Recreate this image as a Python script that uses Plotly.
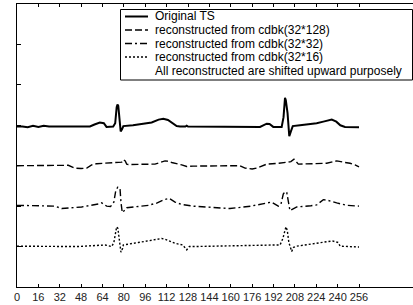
import plotly.graph_objects as go

# ---- data ----
orig_x = [0, 4, 8, 12, 16, 20, 24, 28, 54.6, 58, 62, 65, 67, 72, 73.5, 74.6, 75.2, 75.8, 76.6, 77.6,
          78.6, 79.6, 86.8, 100.8, 106, 109.5, 113, 116, 119.5, 122, 126, 127, 128, 181.9, 184.5,
          186.9, 189, 191.8, 198.1, 199.5, 200.6, 201.2, 202.5, 203.8, 205, 206.4, 211.8, 224.3,
          229.3, 234.3, 235.6, 239, 242, 245.5, 256]
orig_y = [-0.03, -0.03, -0.05, -0.01, -0.04, -0.01, -0.03, -0.03, -0.03, 0.02, 0.07, 0.05, -0.04,
          -0.03, 0.05, 0.45, 0.51, 0.48, 0.10, -0.15, -0.10, -0.02, 0.00, 0.07, 0.14, 0.16, 0.13,
          0.07, -0.02, -0.03, -0.03, -0.01, -0.03, -0.04, 0.00, 0.04, 0.03, -0.04, -0.04, 0.20,
          0.68, 0.62, 0.30, -0.27, -0.15, -0.02, 0.00, 0.05, 0.09, 0.14, 0.14, 0.09, 0.00, -0.04,
          -0.05]

r128_x = [0, 20, 38.4, 43.4, 48, 52.2, 55.9, 59.7, 63.4, 73.4, 78.4, 79.6, 81, 82.1, 83.3, 103.3,
          108, 110.8, 113, 115.8, 123.3, 127, 131.7, 166.9, 170.7, 176, 179.4, 186.9, 196, 201.3,
          205, 207.3, 209, 210.6, 231.8, 236, 239.3, 244, 249.3, 253, 256]
r128_y = [-1.00, -0.99, -0.99, -1.06, -1.07, -1.06, -0.98, -0.95, -0.94, -0.93, -0.91, -0.85,
          -0.88, -0.96, -0.97, -0.96, -0.91, -0.88, -0.89, -0.92, -0.98, -1.02, -1.01, -1.00,
          -1.06, -1.08, -1.06, -0.96, -0.94, -0.92, -0.90, -0.84, -0.90, -0.96, -0.94, -0.90,
          -0.88, -0.91, -0.94, -0.98, -1.03]

r32_x = [0, 28.4, 33.5, 48.4, 62.1, 63.4, 67.1, 70, 72.5, 74, 75.5, 77.1, 77.8, 78.8, 80, 82.1,
         98.3, 105, 110, 114, 118.3, 123.3, 131.7, 159.4, 175, 190.6, 195.6, 197.6, 199.3, 200.6,
         201.9, 203, 204.3, 206, 209.4, 220, 224.3, 229.3, 233, 239.3, 246.8, 256]
r32_y = [-1.98, -2.00, -2.06, -2.02, -1.94, -1.92, -2.00, -2.01, -1.90, -1.60, -1.53, -1.56,
         -1.90, -2.16, -2.12, -2.04, -1.98, -1.92, -1.84, -1.81, -1.90, -1.96, -2.00, -2.06,
         -2.00, -1.90, -2.00, -1.95, -1.70, -1.64, -1.66, -1.90, -2.11, -2.08, -2.02, -1.99,
         -1.97, -1.84, -1.86, -1.92, -1.98, -2.00]

r16_x = [0, 45.9, 65.9, 69.6, 70.9, 72.5, 74.6, 75.5, 76.5, 77.8, 79, 79.6, 90.8, 108.3, 110.8,
         118.3, 124, 127, 129, 131.7, 194.4, 196.9, 199, 201.3, 202.3, 203.5, 205.6, 207, 209.4,
         229.3, 236, 240.5, 241.8, 256]
r16_y = [-2.99, -3.00, -2.96, -2.98, -3.00, -2.90, -2.51, -2.55, -2.80, -3.14, -3.05, -2.96,
         -2.90, -2.80, -2.82, -2.92, -2.96, -3.08, -3.00, -3.00, -2.96, -2.96, -2.80, -2.51,
         -2.60, -2.90, -3.12, -3.02, -2.99, -2.88, -2.86, -2.90, -2.99, -3.01]

names = ["Original TS", "reconstructed from cdbk(32*128)", "reconstructed from cdbk(32*32)",
         "reconstructed from cdbk(32*16)"]
note = "All reconstructed are shifted upward purposely"
x_ticks = list(range(0, 257, 16))
y_ticks = [-4, -3, -2, -1, 0, 1, 2, 3]

W, H = 413, 305
ML, MR, MT, MB = 17, 0, 4, 18
PW, PH = W - ML - MR, H - MT - MB


def px_x(px):
    return (px - ML) / PW


def px_y(py):
    return (H - MB - py) / PH


fig = go.Figure()
widths = [2.0, 1.4, 1.4, 1.4]
dashes = ["solid", "7px,3px", "7px,3px,2px,3px", "2px,2px"]
for (xs, ys), nm, lw, ds in zip([(orig_x, orig_y), (r128_x, r128_y), (r32_x, r32_y), (r16_x, r16_y)],
                                names, widths, dashes):
    fig.add_trace(go.Scatter(x=xs, y=ys, mode="lines", name=nm, showlegend=False,
                             line=dict(color="black", width=lw, dash=ds)))

# ---- hand-drawn legend box (compact, like the original) ----
shapes = [dict(type="rect", xref="paper", yref="paper", x0=px_x(120.5), x1=px_x(412.5),
               y0=px_y(80), y1=px_y(9.5), line=dict(color="black", width=1), fillcolor="white",
               layer="above")]
annotations = []
rows = [16.5, 30, 43.5, 57, 70.5]
labels = names + [note]
for i, (py, lab) in enumerate(zip(rows, labels)):
    if i < 4:
        shapes.append(dict(type="line", xref="paper", yref="paper", x0=px_x(125), x1=px_x(148),
                           y0=px_y(py), y1=px_y(py), layer="above",
                           line=dict(color="black", width=widths[i], dash=dashes[i])))
    annotations.append(dict(xref="paper", yref="paper", x=px_x(153), y=px_y(py), text=lab,
                            showarrow=False, xanchor="left", yanchor="middle",
                            font=dict(size=12, color="black")))

fig.update_layout(
    width=W, height=H,
    margin=dict(l=ML, r=MR, t=MT, b=MB, autoexpand=False),
    paper_bgcolor="white", plot_bgcolor="white",
    font=dict(family="Liberation Sans, Arial, sans-serif", size=11, color="black"),
    showlegend=False,
    shapes=shapes, annotations=annotations,
    xaxis=dict(range=[0, 296.4], tickvals=x_ticks, ticktext=[str(v) for v in x_ticks],
               tickangle=0, automargin=False,
               ticks="inside", ticklen=3, tickcolor="black", showline=True, linecolor="black",
               linewidth=1, mirror="ticks", showgrid=False, zeroline=False,
               tickfont=dict(size=11, color="#222")),
    yaxis=dict(range=[-4, 3], tickvals=y_ticks, showticklabels=False, ticks="inside", ticklen=4,
               tickcolor="black", showline=True, linecolor="black", linewidth=1, showgrid=False,
               zeroline=False, automargin=False),
)
fig.write_html("out.html", post_script="document.body.style.margin='0';",
               config={"displayModeBar": False})
